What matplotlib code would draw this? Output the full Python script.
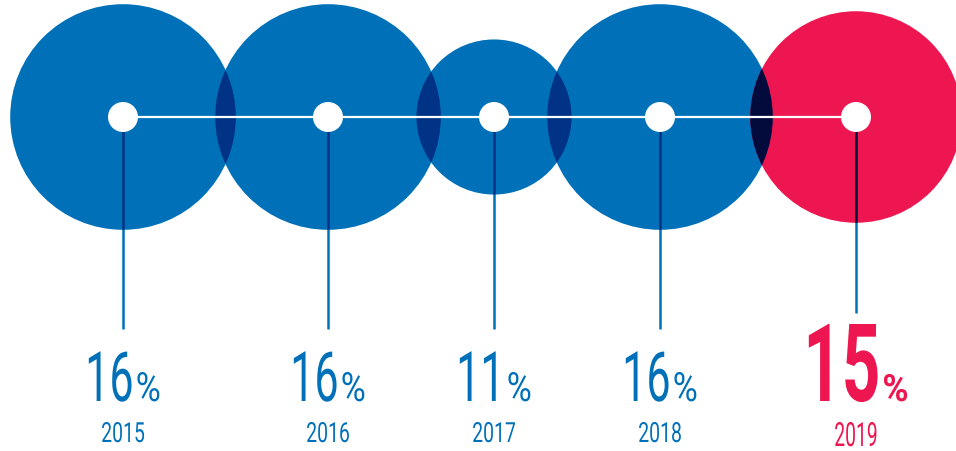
import matplotlib
matplotlib.use("Agg")
import matplotlib.pyplot as plt
from matplotlib.patches import Circle
from matplotlib.patheffects import AbstractPathEffect
from matplotlib.text import Text
from matplotlib.transforms import Affine2D, Bbox

years = ["2015", "2016", "2017", "2018", "2019"]
shares = [16, 16, 11, 16, 15]
highlight = "2019"

BLUE = "#0071b9"
NAVY = "#003385"
RED = "#ed1650"
DARK = "#020b3c"

centers_x = [123, 328, 494, 660, 856]
center_y = 118
px_per_pct = 7.05
FONT = "Roboto"


class Squeeze(AbstractPathEffect):
    """Narrow the glyphs horizontally around the text's own left edge."""

    def __init__(self, sx):
        super().__init__()
        self.sx = sx

    def draw_path(self, renderer, gc, tpath, affine, rgbFace=None):
        tx = affine.get_matrix()[0, 2]
        narrow = Affine2D().translate(-tx, 0).scale(self.sx, 1).translate(tx, 0)
        renderer.draw_path(gc, tpath, affine + narrow, rgbFace)


class NarrowText(Text):
    """Left-aligned text drawn condensed; its extent reports the narrowed width."""

    def __init__(self, x, y, s, sx, **kw):
        super().__init__(x, y, s, ha="left", va="baseline", family=FONT,
                         path_effects=[Squeeze(sx)], **kw)
        self.sx = sx

    def get_window_extent(self, renderer=None, dpi=None):
        bb = super().get_window_extent(renderer, dpi)
        return Bbox.from_extents(bb.x0, bb.y0, bb.x0 + bb.width * self.sx, bb.y1)


fig = plt.figure(figsize=(9.56, 4.52), dpi=100)
ax = fig.add_axes([0, 0, 1, 1])
ax.set_xlim(0, 956)
ax.set_ylim(452, 0)
ax.set_aspect("equal")
ax.axis("off")

circles = []
for i, (yr, v) in enumerate(zip(years, shares)):
    col = RED if yr == highlight else BLUE
    c = Circle((centers_x[i], center_y), v * px_per_pct, color=col, lw=0, zorder=1)
    ax.add_patch(c)
    circles.append(c)

# darker lens where neighbouring bubbles overlap
for i in range(len(circles) - 1):
    a, b = circles[i], circles[i + 1]
    col = DARK if highlight in (years[i], years[i + 1]) else NAVY
    lens = Circle(b.center, b.radius, color=col, lw=0, zorder=2)
    ax.add_patch(lens)
    lens.set_clip_path(a)

ax.plot([centers_x[0], centers_x[-1]], [center_y, center_y], color="white", lw=1.6, zorder=3)

for i, (yr, v) in enumerate(zip(years, shares)):
    cx = centers_x[i]
    end_y = 314 if yr == highlight else 330
    ax.plot([cx, cx], [center_y, end_y], color=BLUE, lw=1.8, zorder=3, solid_capstyle="butt")
    inner, = ax.plot([cx, cx], [center_y, end_y], color=DARK if yr == highlight else NAVY,
                     lw=1.8, zorder=3, solid_capstyle="butt")
    inner.set_clip_path(circles[i])
    ax.add_patch(Circle((cx, center_y), 15, color="white", lw=0, zorder=4))


def narrow_text(x, y, s, sx, **kw):
    t = NarrowText(x, y, s, sx, **kw)
    ax.add_artist(t)
    return t


fig.canvas.draw()
renderer = fig.canvas.get_renderer()
for i, (yr, v) in enumerate(zip(years, shares)):
    cx = centers_x[i]
    hl = yr == highlight
    col = RED if hl else BLUE
    weight = "bold" if hl else "normal"
    num = narrow_text(cx, 402, str(v), 0.62, color=col, fontsize=78 if hl else 50,
                      fontweight=weight)
    pct = narrow_text(cx, 402, "%", 0.95 if hl else 0.85, color=col,
                      fontsize=27 if hl else 29, fontweight=weight)
    w_num = num.get_window_extent(renderer).width
    w_pct = pct.get_window_extent(renderer).width
    gap = 2
    left = cx - (w_num + gap + w_pct) / 2
    num.set_x(left)
    pct.set_x(left + w_num + gap)

    lab = narrow_text(cx, 447 if hl else 443, yr, 0.58 if hl else 0.7, color=col,
                      fontsize=24 if hl else 20)
    lab.set_x(cx - lab.get_window_extent(renderer).width / 2)

fig.savefig("out.png", dpi=100)
